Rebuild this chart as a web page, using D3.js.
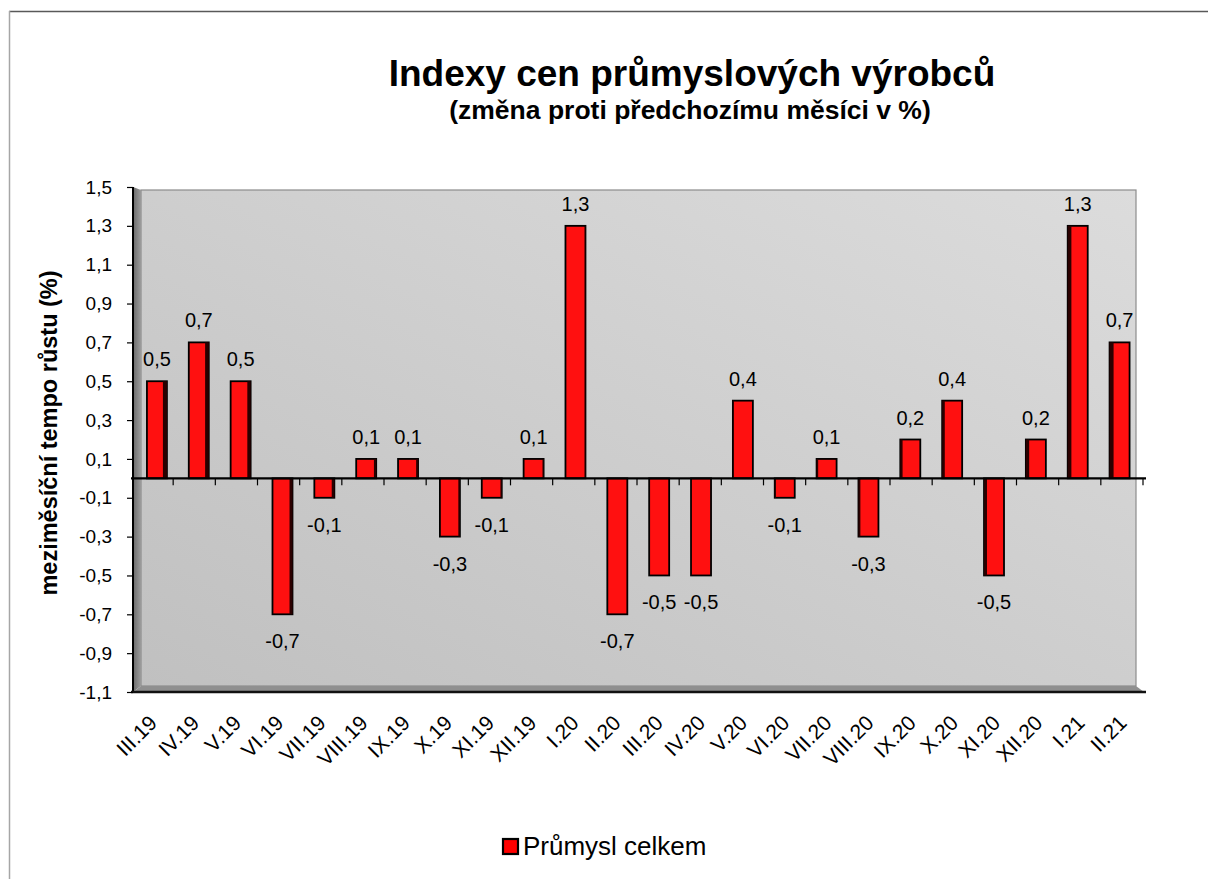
<!DOCTYPE html>
<html>
<head>
<meta charset="utf-8">
<script src="https://cdn.jsdelivr.net/npm/d3@7"></script>
<style>
  body { margin: 0; background: #fff; }
  text { font-family: Arial, 'Liberation Sans', sans-serif; fill: #000; }
</style>
</head>
<body>
<svg id="container" width="1208" height="879"></svg>
<script>
const months = ['III.19', 'IV.19', 'V.19', 'VI.19', 'VII.19', 'VIII.19', 'IX.19', 'X.19', 'XI.19', 'XII.19',
  'I.20', 'II.20', 'III.20', 'IV.20', 'V.20', 'VI.20', 'VII.20', 'VIII.20', 'IX.20', 'X.20', 'XI.20', 'XII.20',
  'I.21', 'II.21']
const values = [0.5, 0.7, 0.5, -0.7, -0.1, 0.1, 0.1, -0.3, -0.1, 0.1,
  1.3, -0.7, -0.5, -0.5, 0.4, -0.1, 0.1, -0.3, 0.2, 0.4, -0.5, 0.2,
  1.3, 0.7]
const yTicks = [1.5, 1.3, 1.1, 0.9, 0.7, 0.5, 0.3, 0.1, -0.1, -0.3, -0.5, -0.7, -0.9, -1.1]
const seriesName = 'Průmysl celkem'

const data = months.map((m, i) => ({ month: m, value: values[i] }))
const fmt = (v) => d3.format('.1f')(v).replace('.', ',').replace('−', '-')

const svg = d3.select('#container')

// outer frame
svg.append('line').attr('x1', 9).attr('x2', 1208).attr('y1', 11.5).attr('y2', 11.5)
  .attr('stroke', '#595959').attr('stroke-width', 1.5)
svg.append('line').attr('x1', 9.5).attr('x2', 9.5).attr('y1', 11).attr('y2', 879)
  .attr('stroke', '#a6a6a6').attr('stroke-width', 1.5)

// front plane (ticks, category labels) and bar plane (slightly inset, 3D depth)
const x = d3.scaleBand().domain(months).range([131, 1143])
const xBar = x.copy().range([136, 1140.5])
const y = d3.scaleLinear().domain([-1.1, 1.5]).range([692, 187])

const depth = 8
const defs = svg.append('defs')
const wallGrad = defs.append('linearGradient').attr('id', 'wallGrad')
  .attr('x1', '0%').attr('y1', '100%').attr('x2', '100%').attr('y2', '0%')
wallGrad.append('stop').attr('offset', '0%').attr('stop-color', '#c0c0c0')
wallGrad.append('stop').attr('offset', '100%').attr('stop-color', '#dcdcdc')
const sideGrad = defs.append('linearGradient').attr('id', 'sideGrad')
  .attr('x1', '0%').attr('x2', '100%')
sideGrad.append('stop').attr('offset', '0%').attr('stop-color', '#6a6a6a')
sideGrad.append('stop').attr('offset', '100%').attr('stop-color', '#9c9c9c')

const wallL = 133
const wallR = 1136
const wallT = y(1.5) + 3
const wallB = y(-1.1)

// back wall
svg.append('rect')
  .attr('x', wallL + depth).attr('y', wallT)
  .attr('width', wallR - wallL - depth).attr('height', wallB - wallT - 6)
  .attr('fill', 'url(#wallGrad)')
  .attr('stroke', '#8c8c8c').attr('stroke-width', 1.2)

// left side wall
svg.append('path')
  .attr('d', `M${wallL},${y(1.5)} L${wallL + depth},${wallT} L${wallL + depth},${wallB - 6} L${wallL},${wallB} Z`)
  .attr('fill', 'url(#sideGrad)')

// floor
svg.append('path')
  .attr('d', `M${wallL},${wallB} L${wallL + depth},${wallB - 6} L${wallR},${wallB - 6} L${wallR + depth},${wallB} Z`)
  .attr('fill', '#8f8f8f')

// y axis line + floor edge
svg.append('line').attr('x1', wallL).attr('x2', wallL).attr('y1', y(1.5)).attr('y2', wallB)
  .attr('stroke', '#000').attr('stroke-width', 2)
svg.append('line').attr('x1', wallL - 2).attr('x2', wallR + depth + 2).attr('y1', wallB).attr('y2', wallB)
  .attr('stroke', '#111').attr('stroke-width', 2.5)

const yAxis = svg.append('g').attr('transform', `translate(${wallL},0)`)
  .call(d3.axisLeft(y).tickValues(yTicks).tickSize(6).tickPadding(15).tickFormat(fmt))
yAxis.select('.domain').remove()
yAxis.selectAll('.tick line').attr('stroke', '#000').attr('stroke-width', 1.2)
yAxis.selectAll('.tick text').style('font-size', '19px')

// bars: side face visible towards the centre of view
const bw = 20
const midX = 638
const barG = svg.append('g')
data.forEach((d) => {
  const cx = xBar(d.month) + xBar.bandwidth() / 2
  const y0 = y(Math.max(0, d.value))
  const h = Math.abs(y(d.value) - y(0))
  const side = Math.abs(cx - midX) / 480 * 4
  barG.append('rect')
    .attr('x', cx - bw / 2).attr('y', y0)
    .attr('width', bw).attr('height', h)
    .attr('fill', '#ff1010').attr('stroke', '#000').attr('stroke-width', 1.8)
  barG.append('rect')
    .attr('x', cx < midX ? cx + bw / 2 - side : cx - bw / 2)
    .attr('y', y0)
    .attr('width', side).attr('height', h)
    .attr('fill', '#2a0000')
})

// zero line with ticks
svg.append('line').attr('x1', wallL - 2).attr('x2', wallR + depth + 2).attr('y1', y(0)).attr('y2', y(0))
  .attr('stroke', '#000').attr('stroke-width', 2.2)
svg.append('g').selectAll('line')
  .data(months)
  .join('line')
  .attr('x1', (d) => x(d) + x.step())
  .attr('x2', (d) => x(d) + x.step())
  .attr('y1', y(0)).attr('y2', y(0) + 7)
  .attr('stroke', '#000').attr('stroke-width', 1.2)

// value labels
svg.append('g').selectAll('text')
  .data(data)
  .join('text')
  .attr('x', (d) => xBar(d.month) + xBar.bandwidth() / 2)
  .attr('y', (d) => d.value >= 0 ? y(d.value) - 15 : y(d.value) + 34)
  .attr('text-anchor', 'middle')
  .style('font-size', '20px')
  .text((d) => fmt(d.value))

// x labels
svg.append('g').selectAll('text')
  .data(months)
  .join('text')
  .attr('transform', (d) => `translate(${x(d) + x.bandwidth() / 2 + 1},${wallB + 27}) rotate(-45)`)
  .attr('text-anchor', 'end')
  .attr('dy', '0.35em')
  .style('font-size', '21px')
  .text((d) => d)

// titles
svg.append('text').attr('x', 692).attr('y', 86).attr('text-anchor', 'middle')
  .style('font-size', '37px').style('font-weight', 'bold')
  .text('Indexy cen průmyslových výrobců')
svg.append('text').attr('x', 690).attr('y', 119).attr('text-anchor', 'middle')
  .style('font-size', '26.5px').style('font-weight', 'bold')
  .text('(změna proti předchozímu měsíci v %)')

// y title
svg.append('text')
  .attr('transform', 'translate(57,433) rotate(-90)')
  .attr('text-anchor', 'middle')
  .style('font-size', '23.5px').style('font-weight', 'bold')
  .text('meziměsíční tempo růstu (%)')

// legend
const lg = svg.append('g').attr('transform', 'translate(503,839)')
lg.append('rect').attr('width', 15).attr('height', 15)
  .attr('fill', '#ff0000').attr('stroke', '#000').attr('stroke-width', 2.2)
lg.append('text').attr('x', 20).attr('y', 16).style('font-size', '26px').text(seriesName)
</script>
</body>
</html>
